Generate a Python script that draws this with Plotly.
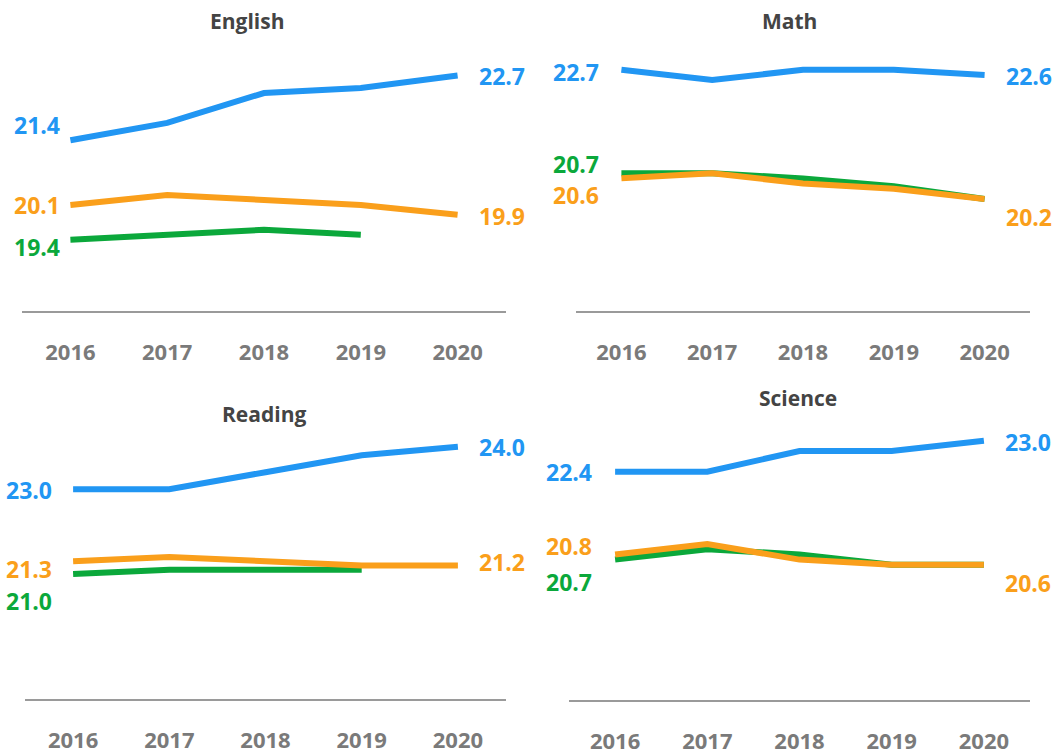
import plotly.graph_objects as go

W, H = 1054, 755

# ---------------- data ----------------
years = [2016, 2017, 2018, 2019, 2020]
tick_labels = ["2016", "2017", "2018", "2019", "2020"]
subjects = ["English", "Math", "Reading", "Science"]
series_names = ["Series A", "Series B", "Series C"]  # blue, orange, green

english_blue = [21.4, 21.75, 22.35, 22.45, 22.7]
english_orange = [20.1, 20.3, 20.2, 20.1, 19.9]
english_green = [19.4, 19.5, 19.6, 19.5, None]

math_blue = [22.7, 22.5, 22.7, 22.7, 22.6]
math_orange = [20.6, 20.7, 20.5, 20.4, 20.2]
math_green = [20.7, 20.7, 20.6, 20.45, 20.2]

reading_blue = [23.0, 23.0, 23.4, 23.8, 24.0]
reading_orange = [21.3, 21.4, 21.3, 21.2, 21.2]
reading_green = [21.0, 21.1, 21.1, 21.1, None]

science_blue = [22.4, 22.4, 22.8, 22.8, 23.0]
science_orange = [20.8, 21.0, 20.7, 20.6, 20.6]
science_green = [20.7, 20.9, 20.8, 20.6, 20.6]

panel_data = {
    "English": (english_blue, english_orange, english_green),
    "Math": (math_blue, math_orange, math_green),
    "Reading": (reading_blue, reading_orange, reading_green),
    "Science": (science_blue, science_orange, science_green),
}

# ---------------- styles ----------------
colors = ["#2196F3", "#FA9F1B", "#0BA83B"]
FONT = "Open Sans"
title_color = "#444444"
tick_color = "#7a7a7a"
axis_color = "#9a9a9a"

# pixel boxes: x0, x1, ytop, ybottom
boxes = {
    "English": (22, 506, 55, 313),
    "Math": (576, 1030, 55, 313),
    "Reading": (25, 506, 430, 703),
    "Science": (569, 1030, 430, 704),
}
y_ranges = {
    "English": [17.96, 23.12],
    "Math": [18.03, 22.99],
    "Reading": [18.04, 24.45],
    "Science": [17.98, 23.25],
}
title_pos = {"English": (247, 21), "Math": (789, 21), "Reading": (264, 416), "Science": (798, 400)}
start_gap = {"English": 8, "Math": 20, "Reading": 19, "Science": 21}
end_gap = 19
# y shifts (px, up positive) for start labels [blue, orange, green] and end labels [blue, orange]
start_shift = {
    "English": [15, 0, -7],
    "Math": [-2, -17, 9],
    "Reading": [-1, -8, -27],
    "Science": [0, 8, -22],
}
end_shift = {
    "English": [0, -1],
    "Math": [-1, -18],
    "Reading": [0, 3],
    "Science": [-1, -18],
}


def px_x(x):
    return x / W


def px_y(y):
    return 1 - y / H


fig = go.Figure()
annotations = []

for i, subj in enumerate(subjects):
    ax = "" if i == 0 else str(i + 1)
    x0, x1, yt, yb = boxes[subj]
    fig.update_layout(**{
        f"xaxis{ax}": dict(
            domain=[px_x(x0), px_x(x1)], range=[2015.5, 2020.5], anchor=f"y{ax}",
            tickmode="array", tickvals=years, ticktext=tick_labels,
            showgrid=False, zeroline=False, showline=True, linecolor=axis_color, linewidth=2,
            ticks="", ticklabelstandoff=20,
            tickfont=dict(family=FONT, size=22, color=tick_color, weight="bold"),
            fixedrange=True,
        ),
        f"yaxis{ax}": dict(
            domain=[px_y(yb), px_y(yt)], range=y_ranges[subj], anchor=f"x{ax}",
            visible=False, fixedrange=True,
        ),
    })
    series = panel_data[subj]
    # draw green, orange, blue (blue on top)
    for k in [2, 1, 0]:
        fig.add_trace(go.Scatter(
            x=years, y=series[k], mode="lines", name=series_names[k],
            line=dict(color=colors[k], width=6), xaxis=f"x{ax}", yaxis=f"y{ax}",
            showlegend=False, connectgaps=False,
        ))
    # start labels
    for k in range(3):
        vals = series[k]
        annotations.append(dict(
            x=years[0], y=vals[0], xref=f"x{ax}", yref=f"y{ax}",
            text=f"{vals[0]:.1f}", showarrow=False, xanchor="right", yanchor="middle",
            xshift=-start_gap[subj], yshift=start_shift[subj][k],
            font=dict(family=FONT, size=23, color=colors[k], weight="bold"),
        ))
    # end labels (blue, orange)
    for k in range(2):
        vals = series[k]
        annotations.append(dict(
            x=years[-1], y=vals[-1], xref=f"x{ax}", yref=f"y{ax}",
            text=f"{vals[-1]:.1f}", showarrow=False, xanchor="left", yanchor="middle",
            xshift=end_gap, yshift=end_shift[subj][k],
            font=dict(family=FONT, size=23, color=colors[k], weight="bold"),
        ))
    tx, ty = title_pos[subj]
    annotations.append(dict(
        x=px_x(tx), y=px_y(ty), xref="paper", yref="paper", text=subj, showarrow=False,
        xanchor="center", yanchor="middle",
        font=dict(family=FONT, size=21, color=title_color, weight="bold"),
    ))

fig.update_layout(
    width=W, height=H, margin=dict(l=0, r=0, t=0, b=0),
    paper_bgcolor="white", plot_bgcolor="white",
    annotations=annotations, showlegend=False,
)

# remove the default page margin so the figure fills the window exactly
page_css = "document.body.style.margin='0';document.body.style.overflow='hidden';"
fig.write_html("out.html", config={"displayModeBar": False}, post_script=page_css)
